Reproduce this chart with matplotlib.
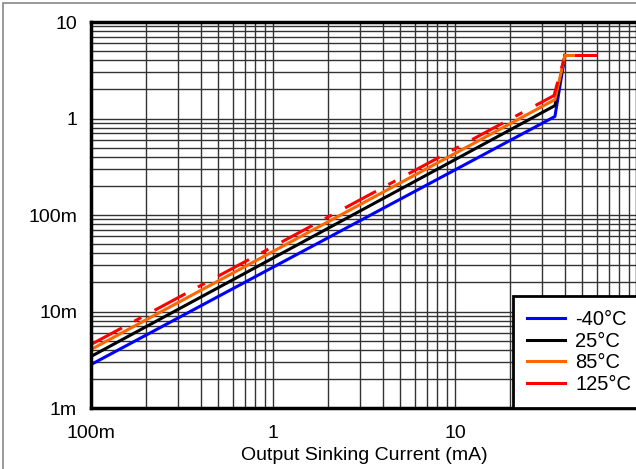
import matplotlib
matplotlib.use('Agg')
import matplotlib.pyplot as plt
import matplotlib.ticker as mticker
from matplotlib.patches import Rectangle

plt.rcParams['font.family'] = ['Liberation Sans', 'DejaVu Sans']

# Output sinking current (mA) and output voltage (V) per temperature
cur_blue = [0.1, 35.4, 40.2]
v_blue = [0.00282, 1.05, 4.5]
cur_black = [0.1, 35.4, 40.2]
v_black = [0.00342, 1.36, 4.5]
cur_orange = [0.1, 35.4, 40.2, 44.5]
v_orange = [0.00404, 1.57, 4.5, 4.5]
cur_red = [0.1, 35.0, 40.2, 60.3]
v_red = [0.00455, 1.73, 4.5, 4.5]

labels = ['-40°C', '25°C', '85°C', '125°C']
xticks = [0.1, 1, 10]
xticklabels = ['100m', '1', '10']
yticks = [0.001, 0.01, 0.1, 1, 10]
yticklabels = ['1m', '10m', '100m', '1', '10']

fig = plt.figure(figsize=(6.36, 4.69), dpi=100)
# grey outer frame (only left and top edges fall inside the image)
fig.patches.append(Rectangle((3 / 636, -0.1), 1.2, 1 - 3 / 469 + 0.1,
                             transform=fig.transFigure, fill=False,
                             edgecolor='#888888', linewidth=1.2))
ax = fig.add_axes([91 / 636, 61 / 469, 546 / 636, 386 / 469])
ax.set_xscale('log')
ax.set_yscale('log')
ax.set_xlim(0.1, 100)
ax.set_ylim(0.001, 10)

ax.grid(True, which='both', color='#333333', linewidth=1.0)
ax.set_axisbelow(True)

lw = 2.2
ax.plot(cur_blue, v_blue, color='#0000ff', lw=lw)
ax.plot(cur_black, v_black, color='black', lw=lw)
ax.plot(cur_orange, v_orange, color='#ff6600', lw=lw)
red, = ax.plot(cur_red, v_red, color='#ff0000', lw=lw)
red.set_dashes([11.5, 4.6, 2.6, 4.9])

ax.set_xticks(xticks)
ax.set_xticklabels(xticklabels)
ax.set_yticks(yticks)
ax.set_yticklabels(yticklabels)
ax.xaxis.set_minor_formatter(mticker.NullFormatter())
ax.yaxis.set_minor_formatter(mticker.NullFormatter())
ax.tick_params(which='both', length=0, labelsize=14)
ax.tick_params(axis='x', pad=12)
ax.tick_params(axis='y', pad=10)
for s in ax.spines.values():
    s.set_linewidth(2.5)

ax.set_xlabel('Output Sinking Current (mA)', fontsize=14, labelpad=4)

# legend shows solid handles for every series
handles = [plt.Line2D([], [], color=c, lw=lw)
           for c in ['#0000ff', 'black', '#ff6600', '#ff0000']]
leg = ax.legend(handles, labels, loc='lower left',
                bbox_to_anchor=(0.773, 0.0), borderaxespad=0,
                fontsize=14.5, fancybox=False,
                framealpha=1, edgecolor='black', handlelength=1.9,
                handletextpad=0.5, labelspacing=0.13, borderpad=0.7)
leg.get_frame().set_linewidth(2)

fig.savefig('out.png', dpi=100)
